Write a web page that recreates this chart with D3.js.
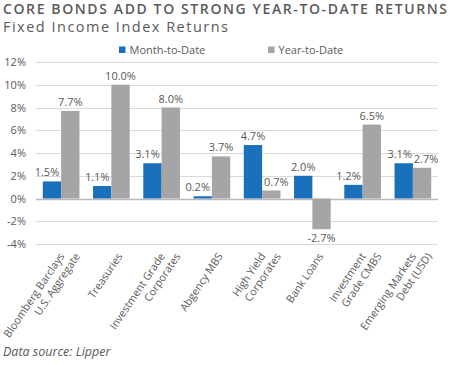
<!DOCTYPE html>
<html>
<head>
<meta charset="utf-8">
<script src="https://cdn.jsdelivr.net/npm/d3@7"></script>
<style>
  html, body { margin: 0; padding: 0; background: #fff; }
  svg { display: block; }
  text { font-family: "Open Sans", Lato, sans-serif; fill: #595959; }
</style>
</head>
<body>
<svg id="chart" width="450" height="365"></svg>
<script>
// ---- data ----
const categories = [
  ["Bloomberg Barclays", "U.S. Aggregate"],
  ["Treasuries"],
  ["Investment Grade", "Corporates"],
  ["Abgency MBS"],
  ["High Yield", "Corporates"],
  ["Bank Loans"],
  ["Investment", "Grade CMBS"],
  ["Emerging Markets", "Debt (USD)"]
];
const seriesNames = ["Month-to-Date", "Year-to-Date"];
const monthToDate = [1.5, 1.1, 3.1, 0.2, 4.7, 2.0, 1.2, 3.1];
const yearToDate  = [7.7, 10.0, 8.0, 3.7, 0.7, -2.7, 6.5, 2.7];
const yTicks = [-4, -2, 0, 2, 4, 6, 8, 10, 12];
const titleText = "CORE BONDS ADD TO STRONG YEAR-TO-DATE RETURNS";
const subtitleText = "Fixed Income Index Returns";
const sourceText = "Data source: Lipper";

// ---- style ----
const colors = ["#1a70bb", "#a5a5a7"];
const labelNudge = [[-5, 0], [-5, 0], [-5, 0], [-5, 0], [0, 5], [0, 0], [-5, 0], [-4, 4]];

const svg = d3.select("#chart");

// title
svg.append("text").attr("x", 3).attr("y", 14)
  .attr("textLength", 444).attr("lengthAdjust", "spacing")
  .style("font-size", "14px").style("font-weight", "600").style("fill", "#5a5a5a")
  .text(titleText);
svg.append("text").attr("x", 3).attr("y", 31.5)
  .attr("textLength", 225).attr("lengthAdjust", "spacing")
  .style("font-size", "14.5px").style("fill", "#5a5a5a")
  .text(subtitleText);

// scales
const x0 = d3.scaleBand().domain(d3.range(categories.length)).range([36, 438]).paddingInner(0.27).paddingOuter(0.135);
const x1 = d3.scaleBand().domain([0, 1]).range([0, x0.bandwidth()]);
const y = d3.scaleLinear().domain([-4, 12]).range([244, 62]);

// gridlines
svg.append("g").selectAll("line").data(yTicks).join("line")
  .attr("x1", 36).attr("x2", 438)
  .attr("y1", d => Math.round(y(d)) + 0.5).attr("y2", d => Math.round(y(d)) + 0.5)
  .attr("stroke", d => d === 0 ? "#b8b8b8" : "#d9d9d9").attr("stroke-width", d => d === 0 ? 1.5 : 1);

// y axis labels
const yAxis = d3.axisLeft(y).tickValues(yTicks).tickFormat(d => d + "%").tickSize(0).tickPadding(0);
const gy = svg.append("g").attr("transform", "translate(26,0)").call(yAxis);
gy.select(".domain").remove();
gy.selectAll("text").style("font-size", "11px").style("fill", "#595959").style("font-family", "'Open Sans', sans-serif");

// bars
const series = [monthToDate, yearToDate];
series.forEach((vals, s) => {
  svg.append("g").selectAll("rect").data(vals).join("rect")
    .attr("x", (d, i) => x0(i) + x1(s))
    .attr("width", x1.bandwidth())
    .attr("y", d => y(Math.max(0, d)))
    .attr("height", d => Math.abs(y(d) - y(0)))
    .attr("fill", colors[s]);
  svg.append("g").selectAll("text").data(vals).join("text")
    .attr("x", (d, i) => x0(i) + x1(s) + x1.bandwidth() / 2 + labelNudge[i][s])
    .attr("y", d => d >= 0 ? y(d) - 5 : y(d) + 12.5)
    .attr("text-anchor", "middle")
    .style("font-size", "11px")
    .text(d => d.toFixed(1) + "%");
});

// x labels
const angle = -56;
const sinA = Math.sin(-angle * Math.PI / 180);
const lineGap = 13 / sinA;
categories.forEach((lines, i) => {
  const cx = x0(i) + x0.bandwidth() / 2;
  const n = lines.length;
  lines.forEach((ln, j) => {
    const px = cx + 11.5 + (j - (n - 1) / 2) * lineGap;
    svg.append("text")
      .attr("transform", `translate(${px},256.2) rotate(${angle})`)
      .attr("text-anchor", "end")
      .style("font-size", "10.7px")
      .text(ln);
  });
});

// legend
const legX = [119, 268];
seriesNames.forEach((nm, s) => {
  svg.append("rect").attr("x", legX[s]).attr("y", 46.5).attr("width", 6.5).attr("height", 6.5).attr("fill", colors[s]);
  svg.append("text").attr("x", legX[s] + 10.5).attr("y", 53.5).style("font-size", "11px").text(nm);
});

// source
svg.append("text").attr("x", 3).attr("y", 356)
  .style("font-size", "12.5px").style("font-style", "italic")
  .text(sourceText);
</script>
</body>
</html>
